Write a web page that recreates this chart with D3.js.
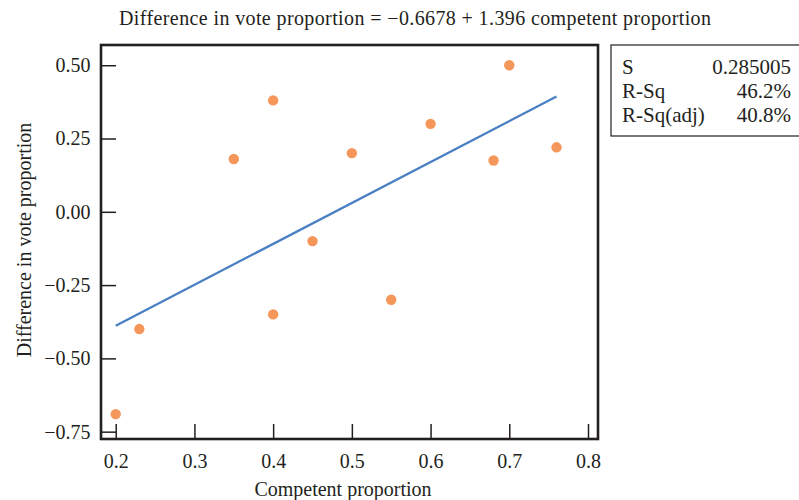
<!DOCTYPE html>
<html>
  <head>
    <meta charset="utf-8">
    <title>Competent proportion regression</title>
    <script src="https://d3js.org/d3.v7.min.js"></script>
    <style>
      body {
        margin: 0;
        background-color: white;
      }
      svg text {
        font-family: "Liberation Serif", "Times New Roman", serif;
        fill: #231f20;
      }
    </style>
  </head>
  <body>
    <script>
      // data
      const competent = [0.20, 0.23, 0.35, 0.40, 0.40, 0.45, 0.50, 0.55, 0.60, 0.68, 0.70, 0.76];
      const voteDiff = [-0.69, -0.40, 0.18, 0.38, -0.35, -0.10, 0.20, -0.30, 0.30, 0.175, 0.50, 0.22];
      const xTicks = [0.2, 0.3, 0.4, 0.5, 0.6, 0.7, 0.8];
      const yTicks = [0.5, 0.25, 0, -0.25, -0.5, -0.75];
      const intercept = -0.6678;
      const slope = 1.396;
      const statNames = ['S', 'R-Sq', 'R-Sq(adj)'];
      const statValues = ['0.285005', '46.2%', '40.8%'];

      const w = 799;
      const h = 500;
      const plotLeft = 101, plotRight = 598, plotTop = 45, plotBottom = 439;

      const xScale = d3.scaleLinear()
                       .domain([0.1813, 0.8127])
                       .range([plotLeft, plotRight]);
      const yScale = d3.scaleLinear()
                       .domain([-0.775, 0.569])
                       .range([plotBottom, plotTop]);

      const svg = d3.select('body')
                    .append('svg')
                    .attr('width', w)
                    .attr('height', h);

      const fmtY = d => d3.format('.2f')(d).replace('-', '\u2212');

      const xAxis = d3.axisTop(xScale)
                      .tickValues(xTicks)
                      .tickSize(15)
                      .tickFormat(d3.format('.1f'));
      const yAxis = d3.axisRight(yScale)
                      .tickValues(yTicks)
                      .tickSize(15)
                      .tickFormat(fmtY);

      const gx = svg.append('g')
                    .attr('transform', `translate(0, ${plotBottom})`)
                    .call(xAxis);
      gx.select('.domain').remove();
      gx.selectAll('line').attr('stroke', '#231f20').attr('stroke-width', 1.5);
      gx.selectAll('text')
        .attr('y', 28.5)
        .attr('font-size', 20)
        .style('font-family', '"Liberation Serif", serif');

      const gy = svg.append('g')
                    .attr('transform', `translate(${plotLeft}, 0)`)
                    .call(yAxis);
      gy.select('.domain').remove();
      gy.selectAll('line').attr('stroke', '#231f20').attr('stroke-width', 1.5);
      gy.selectAll('text')
        .attr('x', -10.5)
        .attr('text-anchor', 'end')
        .attr('font-size', 20)
        .style('font-family', '"Liberation Serif", serif');

      // frame
      svg.append('rect')
         .attr('x', plotLeft)
         .attr('y', plotTop)
         .attr('width', plotRight - plotLeft)
         .attr('height', plotBottom - plotTop)
         .attr('fill', 'none')
         .attr('stroke', '#231f20')
         .attr('stroke-width', 2.6);

      // fitted line
      const xs = d3.extent(competent);
      svg.append('line')
         .attr('x1', xScale(xs[0]))
         .attr('y1', yScale(intercept + slope * xs[0]))
         .attr('x2', xScale(xs[1]))
         .attr('y2', yScale(intercept + slope * xs[1]))
         .attr('stroke', '#4a7fc4')
         .attr('stroke-width', 2.3);

      svg.selectAll('circle')
         .data(competent)
         .enter()
         .append('circle')
         .attr('cx', d => xScale(d))
         .attr('cy', (d, i) => yScale(voteDiff[i]))
         .attr('r', 5.2)
         .attr('fill', '#f5965a');

      // title and axis labels
      svg.append('text')
         .attr('x', 415)
         .attr('y', 25)
         .attr('text-anchor', 'middle')
         .attr('font-size', 20)
         .attr('textLength', 592)
         .attr('lengthAdjust', 'spacing')
         .text('Difference in vote proportion = \u22120.6678 + 1.396 competent proportion');

      svg.append('text')
         .attr('x', 343)
         .attr('y', 496)
         .attr('text-anchor', 'middle')
         .attr('font-size', 20)
         .text('Competent proportion');

      svg.append('text')
         .attr('transform', 'translate(31, 240) rotate(-90)')
         .attr('text-anchor', 'middle')
         .attr('font-size', 20)
         .text('Difference in vote proportion');

      // stats box
      svg.append('rect')
         .attr('x', 611)
         .attr('y', 45)
         .attr('width', 200)
         .attr('height', 91)
         .attr('fill', 'none')
         .attr('stroke', '#231f20')
         .attr('stroke-width', 1.2);

      statNames.forEach((s, i) => {
        svg.append('text')
           .attr('x', 622)
           .attr('y', 73.5 + i * 24)
           .attr('font-size', 21)
           .text(s);
        svg.append('text')
           .attr('x', 791)
           .attr('y', 73.5 + i * 24)
           .attr('text-anchor', 'end')
           .attr('font-size', 21)
           .text(statValues[i]);
      });
    </script>
  </body>
</html>
